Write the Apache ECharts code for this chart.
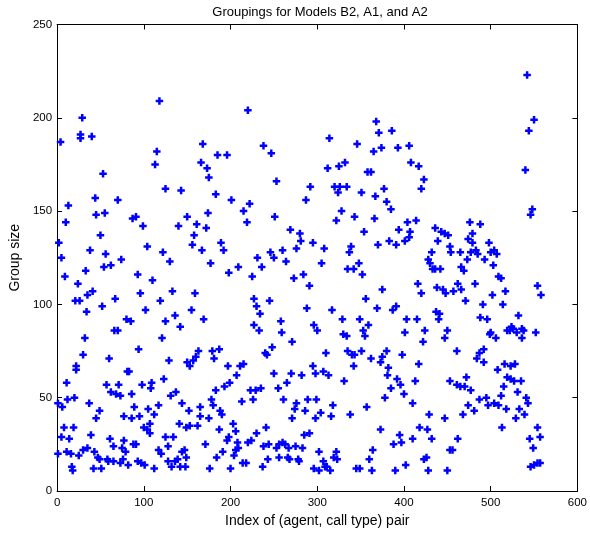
<!DOCTYPE html>
<html>
<head>
<meta charset="utf-8">
<script src="https://cdn.jsdelivr.net/npm/echarts@6/dist/echarts.min.js"></script>
<style>
  html, body { margin: 0; padding: 0; background: #fff; }
  #chart { width: 590px; height: 533px; }
</style>
</head>
<body>
<div id="chart"></div>
<script>
// Index of each (agent, call type) pair, row by row
const pairIndex = [
  4,29,27,27,40,53,118,115,113,
  220,168,185,196,166,173,175,238,247,253,
  368,371,386,314,346,365,374,393,406,312,325,332,358,362,408,417,423,
  542,550,544,540,
  125,143,13,44,70,10,45,55,87,91,99,140,50,2,5,38,
  56,104,122,130,74,54,62,33,9,93,110,24,35,41,96,133,
  21,26,67,119,34,52,102,136,80,85,125,142,66,70,32,121,
  292,183,201,222,287,215,174,150,251,161,172,219,269,280,158,281,
  295,156,189,276,167,192,246,260,231,250,264,177,236,209,198,225,
  284,273,291,159,227,245,230,155,288,234,169,258,227,296,233,259,
  320,326,334,324,351,377,367,380,385,328,322,343,366,404,414,394,407,354,420,
  308,370,383,391,401,406,339,337,348,305,335,342,352,
  436,443,447,451,439,453,432,428,430,433,436,442,416,420,438,445,448,
  375,356,369,387,391,317,329,349,359,403,415,437,441,440,
  300,330,334,353,355,401,424,450,
  548,546,476,488,479,474,479,454,465,498,477,483,485,500,504,507,
  473,493,466,469,503,509,512,482,462,457,466,517,502,471,491,514,
  554,558,532,488,496,500,499,519,524,522,526,536,530,538,552,536,506,
  94,30,60,129,22,22,81,83,11,123,57,71,98,109,108,62,
  68,73,86,131,137,12,20,1,6,37,144,89,105,117,49,45,
  77,86,95,112,141,8,19,100,107,104,107,39,5,14,61,77,
  125,134,65,88,91,75,79,128,1,11,16,25,30,35,43,47,
  49,58,59,65,73,76,82,93,97,101,112,117,120,128,132,136,
  139,142,17,18,42,51,144,
  271,163,179,187,160,157,150,153,181,240,242,248,197,211,215,207,
  250,270,282,295,298,199,193,183,265,255,223,229,235,178,226,213,
  261,289,299,276,180,165,274,152,188,190,286,165,175,271,149,153,
  162,203,206,187,241,285,291,230,198,196,171,208,220,224,238,244,
  253,256,260,263,267,275,283,209,206,191,204,184,147,149,148,214,
  218,176,200,237,243,256,266,268,278,279,296,
  422,447,310,335,340,343,351,362,380,375,373,398,342,417,307,313,
  382,381,331,392,396,385,413,400,378,453,318,410,357,304,316,338,
  429,447,298,373,418,427,395,410,388,397,432,364,360,302,322,319,
  323,307,309,302,315,311,345,349,363,390,402,423,426,428,450,453,
  461,492,487,484,492,508,516,523,528,472,461,465,470,477,519,523,
  527,535,515,531,512,541,543,487,495,497,504,509,474,518,533,481,
  468,539,529,513,554,462,545,557,456,549,546,550,554,557
];

// Group size for the pair at the same position in pairIndex
const groupSize = [
  187,200,191,189,190,170,209,182,175,
  204,186,180,180,176,173,168,185,181,166,
  198,192,193,189,186,182,184,184,185,173,174,176,171,171,176,174,167,
  223,199,193,172,
  162,161,153,157,156,144,148,149,146,147,142,142,137,133,125,129,
  127,131,128,123,124,120,121,118,115,116,113,111,105,107,106,107,
  102,102,103,102,96,99,97,94,92,91,91,88,86,86,82,82,
  163,159,156,154,156,150,149,147,147,143,141,144,140,138,137,134,
  133,132,133,130,129,129,128,129,125,125,123,122,120,120,117,115,
  116,114,110,106,103,102,99,97,98,95,92,91,89,89,86,85,
  163,163,163,160,160,162,158,155,151,150,145,147,146,144,145,140,139,139,162,
  130,132,134,132,134,136,131,128,122,122,119,119,116,
  141,139,138,137,134,131,128,124,122,119,119,119,111,106,109,108,106,
  108,103,98,97,99,97,92,92,89,92,92,96,95,92,
  86,84,83,86,83,85,86,86,
  151,148,144,143,138,135,133,128,128,133,128,129,127,128,129,127,
  124,124,120,118,121,115,114,111,111,107,108,107,105,102,100,100,
  110,105,94,93,92,85,84,86,88,86,87,87,85,86,85,82,82,
  76,73,71,70,67,65,64,64,58,60,57,57,57,58,55,53,
  52,51,52,51,53,49,50,47,45,47,47,45,44,46,43,39,
  40,39,40,41,36,34,34,34,36,33,31,30,29,28,28,27,
  29,29,24,25,25,23,21,24,20,21,20,19,22,23,21,18,
  17,17,16,16,15,17,14,16,15,14,12,22,20,16,13,16,
  17,13,13,11,12,12,21,
  80,75,75,76,72,70,69,67,71,74,73,77,67,67,68,62,
  63,63,62,67,63,58,56,54,58,55,54,54,55,49,49,48,
  49,49,49,47,46,45,44,43,43,41,43,40,39,39,34,35,
  35,36,32,33,34,30,31,31,29,27,25,26,26,27,24,25,
  23,25,26,25,23,24,23,23,22,21,19,18,22,18,13,15,
  15,12,12,13,17,18,18,17,17,16,12,
  80,82,74,75,73,73,75,71,75,72,69,73,67,68,64,62,
  66,62,59,60,57,55,59,52,50,59,46,47,45,42,40,41,
  41,39,39,33,34,33,30,28,25,26,28,22,17,21,21,18,
  17,16,13,11,11,13,12,12,11,11,14,17,18,11,11,22,
  75,76,74,71,69,65,68,67,68,61,57,56,56,54,61,60,
  59,59,56,53,51,50,47,49,50,46,47,46,46,44,44,43,
  41,41,39,34,34,28,28,29,22,23,13,14,15,15
];

const xTicks = { min: 0, max: 600, step: 100 };
const yTicks = { min: 0, max: 250, step: 50 };

const points = pairIndex.map((x, i) => [x, groupSize[i]]);

const FONT = '"Liberation Sans", Arial, Helvetica, sans-serif';
const plusMark = 'path://M3,0H6V3H9V6H6V9H3V6H0V3H3Z';

const boxAxis = (extra) => Object.assign({
  type: 'value',
  splitLine: { show: false },
  axisLine: { show: true, onZero: false, lineStyle: { color: '#000', width: 1 } },
  axisTick: { show: true, inside: true, length: 5, lineStyle: { color: '#000' } },
  axisLabel: { show: false }
}, extra);

const chart = echarts.init(document.getElementById('chart'), null, { renderer: 'canvas' });
chart.setOption({
  animation: false,
  backgroundColor: '#fff',
  textStyle: { fontFamily: FONT },
  title: {
    text: 'Groupings for Models B2, A1, and A2',
    left: 315, top: 1, textAlign: 'center',
    textStyle: { fontFamily: FONT, fontSize: 13, fontWeight: 'normal', color: '#000' }
  },
  grid: { left: 52.7, right: 12, top: 24.5, bottom: 40.7 },
  xAxis: [
    boxAxis({
      min: xTicks.min, max: xTicks.max, interval: xTicks.step, position: 'bottom',
      axisLabel: { show: true, color: '#000', fontSize: 11.5, fontFamily: FONT, margin: 6 },
      name: 'Index of (agent, call type) pair', nameLocation: 'middle', nameGap: 23,
      nameTextStyle: { color: '#000', fontSize: 14, fontFamily: FONT }
    }),
    boxAxis({ min: xTicks.min, max: xTicks.max, interval: xTicks.step, position: 'top' })
  ],
  yAxis: [
    boxAxis({
      min: yTicks.min, max: yTicks.max, interval: yTicks.step, position: 'left',
      axisLabel: { show: true, color: '#000', fontSize: 11.5, fontFamily: FONT, margin: 5 },
      name: 'Group size', nameLocation: 'middle', nameGap: 32, nameRotate: 90,
      nameTextStyle: { color: '#000', fontSize: 14, fontFamily: FONT }
    }),
    boxAxis({ min: yTicks.min, max: yTicks.max, interval: yTicks.step, position: 'right' })
  ],
  series: [{
    type: 'scatter',
    xAxisIndex: 0, yAxisIndex: 0,
    data: points,
    symbol: plusMark,
    symbolSize: 7.5,
    itemStyle: { color: '#0000ff', opacity: 1 },
    emphasis: { disabled: true }
  }]
});
</script>
</body>
</html>
